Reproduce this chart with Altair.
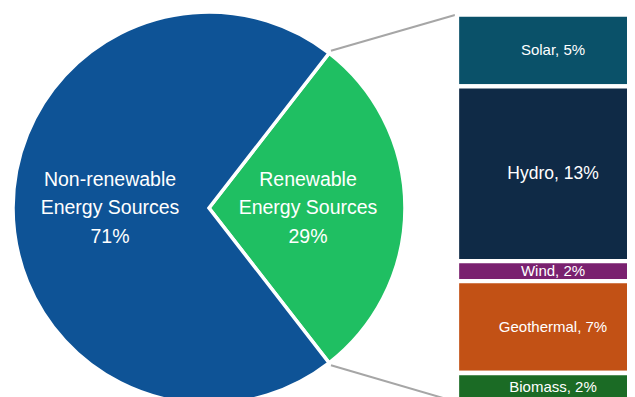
import math
import altair as alt
import pandas as pd

# ---- data ----
main_names = ["Renewable", "Non-renewable"]
main_values = [29, 71]
main_colors = ["#1FBF62", "#0E5396"]

sub_names = ["Solar", "Hydro", "Wind", "Geothermal", "Biomass"]
sub_values = [5.4, 13.1, 1.5, 6.9, 2.1]
sub_pct = ["5%", "13%", "2%", "7%", "2%"]
sub_colors = ["#0A5169", "#0F2A46", "#7A216F", "#C25115", "#1B6B25"]

# ---- layout (view coordinates; the page adds an 8px margin) ----
W, H = 619, 389
CX, CY, R = 201, 200, 196
BAR_X = 449
Y_TOP, Y_BOT = 6.5, 393
FONT = "Liberation Sans"

ren_share = main_values[0] / sum(main_values)
a0 = math.pi / 2 - ren_share * math.pi  # renewable slice centred on the right

pie_df = pd.DataFrame({
    "cat": main_names,
    "value": main_values,
    "idx": list(range(len(main_names))),
    "label": [f"{n}\nEnergy Sources\n{v}%" for n, v in zip(main_names, main_values)],
})

starts, ends = [], []
acc = 0.0
for v in sub_values:
    starts.append(acc)
    acc += v
    ends.append(acc)
sub_df = pd.DataFrame({
    "name": sub_names,
    "start": starts,
    "end": ends,
    "mid": [(s + e) / 2 for s, e in zip(starts, ends)],
    "label": [f"{n}, {p}" for n, p in zip(sub_names, sub_pct)],
})
total = acc

theta_scale = alt.Scale(range=[a0, a0 + 2 * math.pi])
yscale = alt.Scale(domain=[0, total], range=[Y_TOP, Y_BOT])

pie = alt.Chart(pie_df).mark_arc(
    outerRadius=R, stroke="white", strokeWidth=3.5, clip=True
).encode(
    theta=alt.Theta("value:Q", stack=True, scale=theta_scale),
    color=alt.Color("cat:N", scale=alt.Scale(domain=main_names, range=main_colors), legend=None),
    order=alt.Order("idx:Q"),
    x=alt.value(CX),
    y=alt.value(CY),
)

pie_text = alt.Chart(pie_df).mark_text(
    radius=99, fontSize=19.5, lineHeight=28.5, lineBreak="\n", color="white",
    font=FONT, align="center", baseline="middle", dy=-28.5
).encode(
    theta=alt.Theta("value:Q", stack=True, scale=theta_scale),
    detail="cat:N",
    order=alt.Order("idx:Q"),
    text="label:N",
    x=alt.value(CX),
    y=alt.value(CY),
)

bars = alt.Chart(sub_df).mark_rect(stroke="white", strokeWidth=4.3, clip=True).encode(
    x=alt.value(BAR_X),
    x2=alt.value(720),
    y=alt.Y("start:Q", scale=yscale, axis=None),
    y2="end:Q",
    color=alt.Color("name:N", scale=alt.Scale(domain=sub_names, range=sub_colors), legend=None),
)

bar_text = alt.Chart(sub_df).transform_filter(
    alt.datum.name != "Hydro"
).mark_text(
    fontSize=15, color="white", font=FONT, align="center", baseline="middle"
).encode(
    x=alt.value(545),
    y=alt.Y("mid:Q", scale=yscale, axis=None),
    text="label:N",
)

big_text = alt.Chart(sub_df).transform_filter(
    alt.datum.name == "Hydro"
).mark_text(
    fontSize=17.5, color="white", font=FONT, align="center", baseline="middle"
).encode(
    x=alt.value(545),
    y=alt.Y("mid:Q", scale=yscale, axis=None),
    text="label:N",
)

# connector lines from the renewable slice edges to the bar corners
Rc = R + 3
a1 = a0 + ren_share * 2 * math.pi
conn_df = pd.DataFrame({
    "x": [CX + Rc * math.sin(a0), CX + Rc * math.sin(a1)],
    "y": [CY - Rc * math.cos(a0), CY - Rc * math.cos(a1)],
    "x2": [BAR_X - 2, BAR_X - 2],
    "y2": [Y_TOP + 0.5, Y_BOT + 0.5],
})
conn = alt.Chart(conn_df).mark_rule(color="#A6A6A6", strokeWidth=2, clip=True).encode(
    x=alt.X("x:Q", scale=None),
    y=alt.Y("y:Q", scale=None),
    x2="x2:Q",
    y2="y2:Q",
)

chart = alt.layer(pie, conn, bars, pie_text, bar_text, big_text).resolve_scale(
    color="independent"
).properties(
    width=W, height=H, padding=0
).configure_view(stroke=None)

chart.save("out.html", embed_options={"renderer": "svg", "actions": False})
